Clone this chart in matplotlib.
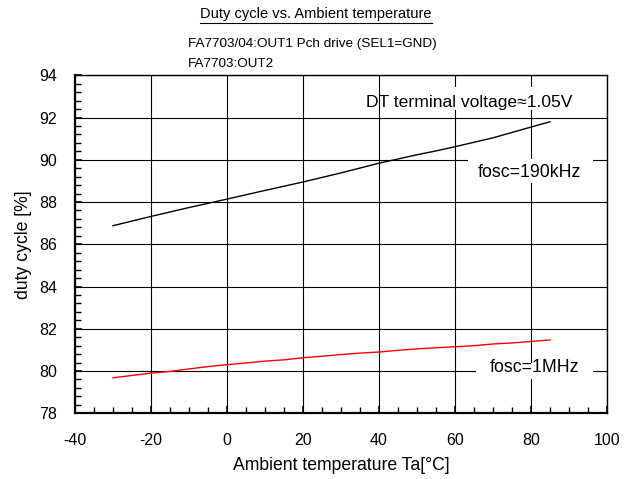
import matplotlib.pyplot as plt
from matplotlib.lines import Line2D
from matplotlib.patches import Rectangle
from matplotlib.ticker import MultipleLocator

plt.rcParams['font.family'] = ['Liberation Sans', 'DejaVu Sans']
plt.rcParams['axes.unicode_minus'] = False

# fosc=190kHz
temp_190k = [-30, -20, -10, 0, 10, 20, 30, 40, 50, 55, 60, 70, 80, 85]
duty_190k = [86.88, 87.32, 87.74, 88.14, 88.55, 88.95, 89.38, 89.84, 90.24, 90.42,
             90.62, 91.04, 91.55, 91.80]
# fosc=1MHz
temp_1m = [-30, -25, -20, -15, -10, -5, 0, 5, 10, 15, 20, 25, 30, 35, 40,
           45, 50, 55, 60, 65, 70, 75, 80, 85]
duty_1m = [79.68, 79.79, 79.90, 79.98, 80.10, 80.21, 80.30, 80.38, 80.47, 80.53,
           80.63, 80.70, 80.78, 80.85, 80.90, 80.98, 81.05, 81.10, 81.15, 81.20,
           81.28, 81.33, 81.40, 81.47]

fig = plt.figure(figsize=(6.39, 4.79), dpi=100)
ax = fig.add_axes([0.1174, 0.1372, 0.8326, 0.7056])

ax.plot(temp_190k, duty_190k, c='black', lw=1.0, zorder=3)
ax.plot(temp_1m, duty_1m, c='red', lw=1.0, zorder=3)

ax.set_xlim(-40, 100)
ax.set_ylim(78, 94)
ax.set_xticks(range(-40, 101, 20))
ax.set_yticks(range(78, 95, 2))
ax.xaxis.set_minor_locator(MultipleLocator(5))
ax.yaxis.set_minor_locator(MultipleLocator(0.4))
ax.tick_params(which='both', direction='in', top=False, right=False, labelsize=11.5)
ax.tick_params(which='major', length=5, width=1.2)
ax.tick_params(which='minor', length=4, width=1.0)
ax.tick_params(axis='y', pad=13)
ax.tick_params(axis='x', pad=14)
ax.grid(True, color='black', lw=0.8)
for s in ['left', 'bottom']:
    ax.spines[s].set_linewidth(1.6)
for s in ['top', 'right']:
    ax.spines[s].set_linewidth(1.0)

ax.set_xlabel("Ambient temperature Ta[°C]", fontsize=12.7, labelpad=7)
ax.set_ylabel("duty cycle [%]", fontsize=12.7, labelpad=5)

# white backgrounds behind the labels (cut the grid)
for x0, x1, y0, y1 in [(46.5, 98.8, 92.35, 93.45), (63.4, 96.3, 88.9, 90.04),
                       (65.5, 96.3, 79.62, 80.38)]:
    ax.add_patch(Rectangle((x0, y0), x1 - x0, y1 - y0, facecolor='white',
                           edgecolor='none', zorder=2.5))

ax.text(63.7, 92.7, "DT terminal voltage≈1.05V", fontsize=12.6, ha='center', va='center', zorder=4)
ax.text(79.6, 89.4, "fosc=190kHz", fontsize=12.8, ha='center', va='center', zorder=4)
ax.text(80.8, 80.17, "fosc=1MHz", fontsize=12.8, ha='center', va='center', zorder=4)

title = fig.text(0.4945, 1 - 14 / 479, "Duty cycle vs. Ambient temperature",
                 fontsize=10.5, ha='center', va='center')
fig.text(188 / 639, 1 - 44 / 479, "FA7703/04:OUT1 Pch drive (SEL1=GND)",
         fontsize=9.7, ha='left', va='center')
fig.text(188 / 639, 1 - 64 / 479, "FA7703:OUT2", fontsize=9.7, ha='left', va='center')

# underline for title
fig.canvas.draw()
bb = title.get_window_extent().transformed(fig.transFigure.inverted())
fig.add_artist(Line2D([bb.x0, bb.x1], [bb.y0 - 0.004, bb.y0 - 0.004],
                      transform=fig.transFigure, color='black', lw=0.8))

plt.savefig('out.png', dpi=100)
